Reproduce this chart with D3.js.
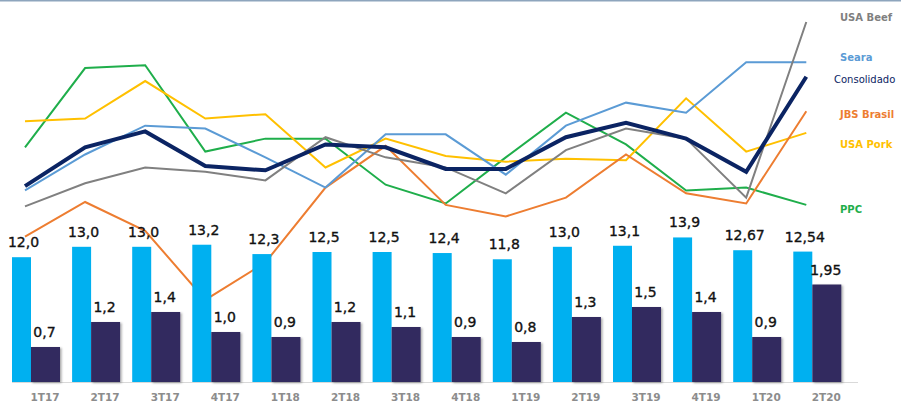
<!DOCTYPE html>
<html>
<head>
<meta charset="utf-8">
<script src="https://cdn.jsdelivr.net/npm/d3@7"></script>
<style>
  body { margin: 0; background: #fff; }
  svg { display: block; }
</style>
</head>
<body>
<div id="viz"></div>
<script>
// quarters
let quarters = ["1T17","2T17","3T17","4T17","1T18","2T18","3T18","4T18","1T19","2T19","3T19","4T19","1T20","2T20"]

// bar values
let barA = [12.0, 13.0, 13.0, 13.2, 12.3, 12.5, 12.5, 12.4, 11.8, 13.0, 13.1, 13.9, 12.67, 12.54]
let barALabels = ["12,0","13,0","13,0","13,2","12,3","12,5","12,5","12,4","11,8","13,0","13,1","13,9","12,67","12,54"]
let barB = [0.7, 1.2, 1.4, 1.0, 0.9, 1.2, 1.1, 0.9, 0.8, 1.3, 1.5, 1.4, 0.9, 1.95]
let barBLabels = ["0,7","1,2","1,4","1,0","0,9","1,2","1,1","0,9","0,8","1,3","1,5","1,4","0,9","1,95"]

// line series (margin, estimated)
let ppc        = [11.3, 16.8, 17.0, 11.0, 11.9, 11.9, 8.7, 7.4, 10.6, 13.7, 11.5, 8.3, 8.5, 7.3]
let usaPork    = [13.1, 13.3, 15.9, 13.3, 13.6, 9.9, 11.9, 10.7, 10.3, 10.5, 10.4, 14.7, 11.0, 12.3]
let jbsBrasil  = [5.1, 7.5, 5.5, 0.7, 3.3, 8.5, 11.4, 7.3, 6.5, 7.8, 10.8, 8.1, 7.4, 13.8]
let seara      = [8.3, 10.8, 12.8, 12.6, 10.6, 8.5, 12.2, 12.2, 9.4, 12.8, 14.4, 13.7, 17.2, 17.2]
let usaBeef    = [7.2, 8.8, 9.9, 9.6, 9.0, 12.0, 10.6, 9.9, 8.1, 11.1, 12.6, 11.9, 7.8, 20.0]
let consolidado = [8.6, 11.3, 12.4, 10.0, 9.7, 11.5, 11.3, 9.8, 9.8, 12.0, 13.0, 11.9, 9.6, 16.2]

let seriesNames = ["PPC", "USA Pork", "JBS Brasil", "Seara", "USA Beef", "Consolidado"]
let seriesValues = [ppc, usaPork, jbsBrasil, seara, usaBeef, consolidado]
let seriesColors = ["#1fae4b", "#ffc000", "#ed7d31", "#5b9bd5", "#808080", "#0b2463"]

let w = 901;
let h = 403;

const svg = d3.select("#viz")
  .append("svg")
  .attr("width", w)
  .attr("height", h)
  .style("font-family", "'DejaVu Sans', sans-serif");

// shadow for dark bars
let defs = svg.append("defs")
defs.append("filter")
  .attr("id", "shadow")
  .attr("x", "-20%").attr("y", "-20%")
  .attr("width", "140%").attr("height", "140%")
  .append("feDropShadow")
  .attr("dx", 1.5)
  .attr("dy", 1)
  .attr("stdDeviation", 0.8)
  .attr("flood-color", "#000")
  .attr("flood-opacity", 0.35)

const xScale = d3.scaleBand()
  .domain(quarters)
  .range([12, 12 + 60.1 * quarters.length])
  .padding(0);

let baseY = 382;

const yBarA = d3.scaleLinear()
  .domain([0, 14])
  .range([baseY, baseY - 14 * 10.4]);

const yBarB = d3.scaleLinear()
  .domain([0, 2])
  .range([baseY, baseY - 100]);

const yLine = d3.scaleLinear()
  .domain([0, 20])
  .range([310, 22]);

let wA = 19;
let wB = 29;
let lineOffset = 13;

// top border
svg.append("line")
  .attr("x1", 0)
  .attr("x2", w)
  .attr("y1", 0.75)
  .attr("y2", 0.75)
  .attr("stroke", "#8ea5bd")
  .attr("stroke-width", 1.5)

// lines
let lineGroup = svg.append("g")
let lineGen = d3.line()
  .x((d, i) => xScale(quarters[i]) + lineOffset)
  .y(d => yLine(d))

seriesValues.forEach((vals, k) => {
  lineGroup.append("path")
    .attr("d", lineGen(vals))
    .attr("fill", "none")
    .attr("stroke", seriesColors[k])
    .attr("stroke-width", seriesNames[k] == "Consolidado" ? 4 : 2)
    .attr("stroke-linejoin", "miter")
})

// legend labels at line ends
let labelNudge = { "USA Beef": -5, "Seara": -5, "Consolidado": 3, "JBS Brasil": 3, "USA Pork": 12, "PPC": 5 }
seriesValues.forEach((vals, k) => {
  let name = seriesNames[k]
  svg.append("text")
    .attr("x", name == "Consolidado" ? 834 : 840)
    .attr("y", yLine(vals[vals.length - 1]) + labelNudge[name])
    .attr("dy", "0.35em")
    .attr("fill", seriesColors[k])
    .attr("font-size", name == "Consolidado" ? 10 : 10)
    .attr("font-weight", name == "Consolidado" ? "normal" : "bold")
    .text(name)
})

// axis line
svg.append("line")
  .attr("x1", 12)
  .attr("x2", 858)
  .attr("y1", baseY + 0.5)
  .attr("y2", baseY + 0.5)
  .attr("stroke", "#d9d9d9")
  .attr("stroke-width", 1)

// bars
let barGroup = svg.append("g")

barGroup.selectAll(".barA")
  .data(barA)
  .enter()
  .append("rect")
  .attr("class", "barA")
  .attr("x", (d, i) => xScale(quarters[i]))
  .attr("y", d => yBarA(d))
  .attr("width", wA)
  .attr("height", d => baseY - yBarA(d))
  .attr("fill", "#00b0f0")

barGroup.selectAll(".barB")
  .data(barB)
  .enter()
  .append("rect")
  .attr("class", "barB")
  .attr("x", (d, i) => xScale(quarters[i]) + wA)
  .attr("y", d => yBarB(d))
  .attr("width", wB)
  .attr("height", d => baseY - yBarB(d))
  .attr("fill", "#322b5f")
  .attr("filter", "url(#shadow)")

// value labels
let labelGroup = svg.append("g")
  .attr("font-size", 14)
  .attr("fill", "#111")
  .attr("stroke", "#111")
  .attr("stroke-width", 0.35)
  .attr("text-anchor", "middle")

labelGroup.selectAll(".labA")
  .data(barA)
  .enter()
  .append("text")
  .attr("x", (d, i) => xScale(quarters[i]) + wA / 2 + 2)
  .attr("y", d => yBarA(d) - 10)
  .text((d, i) => barALabels[i])

labelGroup.selectAll(".labB")
  .data(barB)
  .enter()
  .append("text")
  .attr("x", (d, i) => xScale(quarters[i]) + wA + wB / 2 - 1)
  .attr("y", d => yBarB(d) - 10)
  .text((d, i) => barBLabels[i])

// x axis labels
svg.append("g")
  .selectAll("text")
  .data(quarters)
  .enter()
  .append("text")
  .attr("x", d => xScale(d) + 33)
  .attr("y", 401)
  .attr("text-anchor", "middle")
  .attr("font-size", 10.5)
  .attr("font-weight", "bold")
  .attr("fill", "#8c8c8c")
  .text(d => d)
</script>
</body>
</html>
